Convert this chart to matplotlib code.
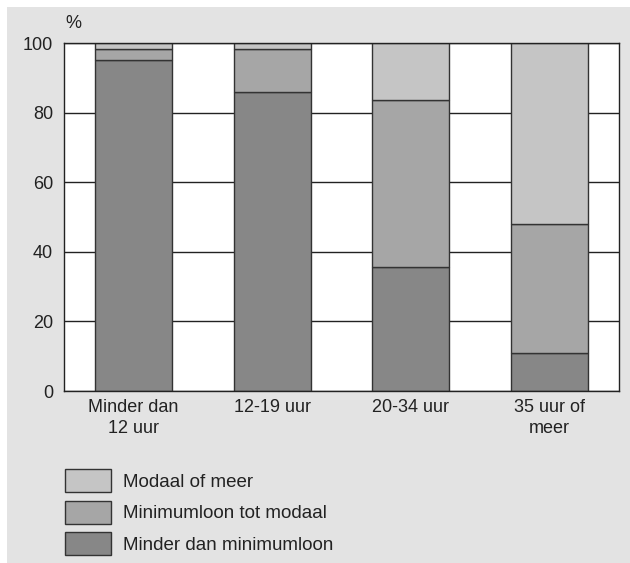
import matplotlib
matplotlib.use("Agg")
import matplotlib.pyplot as plt
from matplotlib.patches import Rectangle
import numpy as np

plt.rcParams['font.family'] = ['Liberation Sans', 'DejaVu Sans']

categories = ["Minder dan\n12 uur", "12-19 uur", "20-34 uur", "35 uur of\nmeer"]
series_names = ["Minder dan minimumloon", "Minimumloon tot modaal", "Modaal of meer"]
minder_dan_minimumloon = [95, 86, 35.5, 11]
minimumloon_tot_modaal = [3.3, 12.3, 48, 37]
modaal_of_meer = [1.7, 1.7, 16.5, 52]
yticks = [0, 20, 40, 60, 80, 100]

colors = ["#878787", "#a6a6a6", "#c5c5c5"]
bg = "#e3e3e3"
edge = "#333333"

W, H = 630, 563
fig = plt.figure(figsize=(W / 100, H / 100), dpi=100)
fig.patch.set_facecolor("white")
fig.add_artist(Rectangle((7 / W, 0), 1 - 7 / W, (H - 7) / H, transform=fig.transFigure,
                         facecolor=bg, edgecolor="none", zorder=-10))

ax = fig.add_axes([64 / W, (H - 391) / H, 555 / W, 348 / H])
ax.set_facecolor("white")

x = np.arange(len(categories))
series = [minder_dan_minimumloon, minimumloon_tot_modaal, modaal_of_meer]
bottom = np.zeros(len(categories))
handles = []
for vals, c, name in zip(series, colors, series_names):
    b = ax.bar(x, vals, width=0.554, bottom=bottom, color=c, edgecolor=edge,
               linewidth=1.0, label=name, zorder=3)
    handles.append(b)
    bottom += np.array(vals)

ax.set_xlim(-0.5, 3.5)
ax.set_ylim(0, 100)
ax.set_yticks(yticks)
ax.set_yticklabels([str(t) for t in yticks])
ax.set_xticks(x)
ax.set_xticklabels(categories, linespacing=1.25)
ax.tick_params(axis='both', length=0, labelsize=13, colors="#222222")
ax.tick_params(axis='y', pad=8)
ax.tick_params(axis='x', pad=6)
ax.yaxis.grid(True, color="#222222", linewidth=1.0, zorder=1)
ax.set_axisbelow(True)
for s in ax.spines.values():
    s.set_color("#222222")
    s.set_linewidth(1.0)
    s.set_zorder(4)

fig.text(65 / W, 1 - 23 / H, "%", fontsize=13, ha="left", va="center", color="#222222")

fs = 13.5
em = fs * 100 / 72
box_h = 23.0
hh = (box_h - 0.245 * em) / (0.65 * em)
leg = fig.legend(handles[::-1], series_names[::-1], loc="upper left",
                 bbox_to_anchor=(65 / W, 1 - 469 / H), frameon=False, fontsize=fs,
                 handlelength=46 / em, handleheight=hh, handletextpad=12 / em,
                 labelspacing=8.5 / em, borderpad=0, borderaxespad=0)
for t in leg.get_texts():
    t.set_color("#222222")

fig.savefig("out.png", dpi=100, facecolor=fig.get_facecolor())
